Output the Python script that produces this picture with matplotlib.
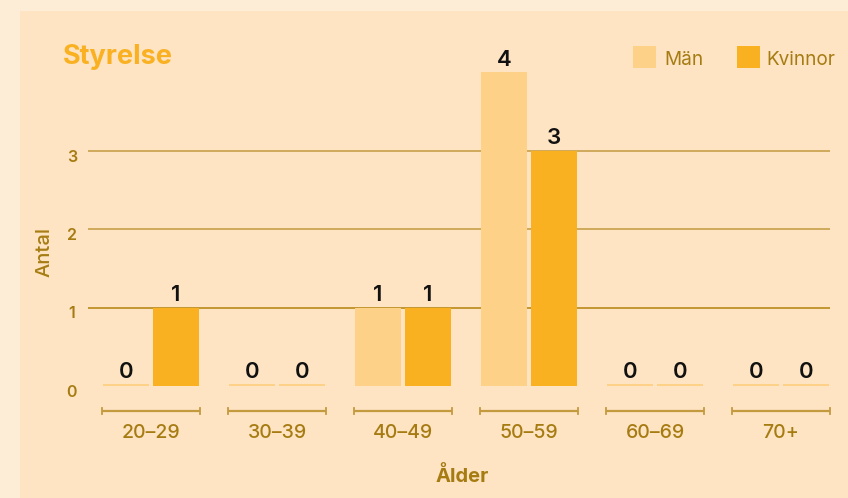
import matplotlib
matplotlib.use("Agg")
import matplotlib.pyplot as plt
from matplotlib.patches import Rectangle
import matplotlib.transforms as mtransforms

categories = ["20–29", "30–39", "40–49", "50–59", "60–69", "70+"]
man = [0, 0, 1, 4, 0, 0]
kvinnor = [1, 0, 1, 3, 0, 0]
yticks = [0, 1, 2, 3]
series_names = ["Män", "Kvinnor"]
title = "Styrelse"

C_MAN = "#FDD187"
C_KV = "#F9B122"
C_TXT = "#A67C12"
C_GRID = "#C49A3E"
C_GRID1 = "#B3810A"
BG_OUT = "#FDECD6"
BG_IN = "#FEE4C3"
FONT = "Inter"

W, H = 848, 498
fig = plt.figure(figsize=(W / 100, H / 100), dpi=100)
fig.patch.set_facecolor(BG_OUT)
fig.add_artist(Rectangle((20 / W, 0), 1 - 20 / W, 1 - 11 / H,
                         transform=fig.transFigure, facecolor=BG_IN,
                         edgecolor="none", zorder=-10))

left, right = 88, 830
y0, y4 = 386, 72
ax = fig.add_axes([left / W, 1 - y0 / H, (right - left) / W, (y0 - y4) / H])
ax.set_facecolor("none")
ax.set_zorder(5)
unit = 126.0
ax.set_xlim(-0.5, 5 + (right - 781) / unit)
ax.set_ylim(0, 4)
for s in ax.spines.values():
    s.set_visible(False)

bw = 46 / unit
off = 25 / unit
minh = 2.2 / 78.5
xs = list(range(len(categories)))
for vals, col, o in ((man, C_MAN, -off), (kvinnor, C_KV, off)):
    hs = [v if v > 0 else minh for v in vals]
    cols = [col if v > 0 else C_MAN for v in vals]
    ax.bar([x + o for x in xs], hs, width=bw, color=cols, zorder=3)
    for x, v, h in zip(xs, vals, hs):
        ax.annotate(str(v), (x + o, h), xytext=(0, 4.5), textcoords="offset points",
                    ha="center", va="baseline", fontsize=16, fontweight="semibold",
                    color="#111111", family=FONT)

for y in yticks[1:]:
    ax.axhline(y, color=C_GRID1 if y == 1 else C_GRID, lw=1.1, zorder=1)

ax.set_yticks(yticks)
ax.set_yticklabels([str(t) for t in yticks], fontsize=11.5, fontweight="semibold",
                   color=C_TXT, family=FONT)
ax.tick_params(axis="y", length=0, pad=8)
shift = mtransforms.ScaledTranslation(-5 / 100, -5 / 100, fig.dpi_scale_trans)
for lab in ax.get_yticklabels():
    lab.set_transform(lab.get_transform() + shift)
    lab.set_horizontalalignment("center")

ax.set_xticks(xs)
ax.set_xticklabels(categories, fontsize=14, fontweight="medium",
                   color=C_TXT, family=FONT)
ax.tick_params(axis="x", length=0, pad=27.5)

# brackets under each category
by = -(411 - y0) / 78.5
hw = 49 / unit
tk = 3.0 / 78.5
for x in xs:
    ax.plot([x - hw, x + hw], [by, by], color=C_GRID, lw=1.6, clip_on=False,
            solid_capstyle="butt")
    for e in (x - hw, x + hw):
        ax.plot([e, e], [by - tk, by + tk], color=C_GRID, lw=1.3, clip_on=False)

fig.text(462 / W, 1 - 482 / H, "Ålder", ha="center", va="baseline", fontsize=14.5,
         fontweight="bold", color=C_TXT, family=FONT)
fig.text(45 / W, 1 - 252 / H, "Antal", ha="center", va="center", rotation=90,
         fontsize=14.5, fontweight="medium", color=C_TXT, family=FONT)
fig.text(63 / W, 1 - 64 / H, title, ha="left", va="baseline", fontsize=19.5,
         fontweight="bold", color=C_KV, family=FONT)

# legend
for x0, tx, col, name in ((633, 664, C_MAN, series_names[0]),
                          (737, 766, C_KV, series_names[1])):
    fig.add_artist(Rectangle((x0 / W, 1 - 68 / H), 23 / W, 22 / H,
                             transform=fig.transFigure, facecolor=col,
                             edgecolor="none"))
    fig.text(tx / W, 1 - 65 / H, name, ha="left", va="baseline",
             fontsize=13.7, color=C_TXT, family=FONT)

fig.savefig("out.png", dpi=100, facecolor=fig.get_facecolor())
